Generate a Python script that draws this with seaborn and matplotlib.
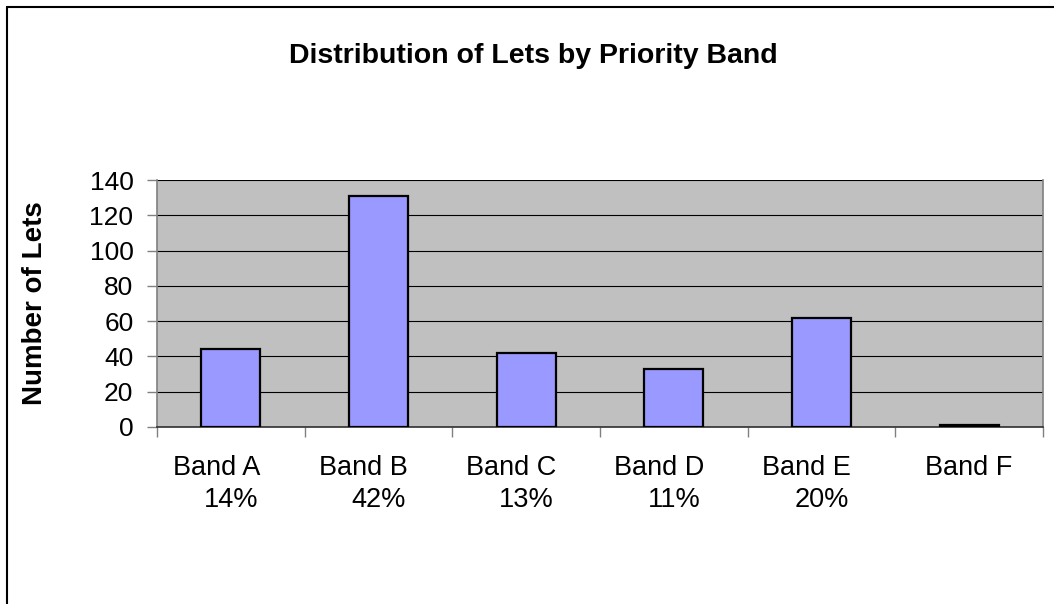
import matplotlib
matplotlib.use("Agg")
import matplotlib.pyplot as plt
import seaborn as sns
import pandas as pd
from matplotlib.lines import Line2D

# ---- data ----
bands = ["Band A", "Band B", "Band C", "Band D", "Band E", "Band F"]
lets = [44, 131, 42, 33, 62, 1]
shares = ["14%", "42%", "13%", "11%", "20%", ""]
y_ticks = [0, 20, 40, 60, 80, 100, 120, 140]
title = "Distribution of Lets by Priority Band"
ylabel = "Number of Lets"

sns.set_theme(style="white")
plt.rcParams["font.family"] = ["Liberation Sans", "DejaVu Sans"]
plt.rcParams["text.color"] = "black"
plt.rcParams["axes.labelcolor"] = "black"

W, H = 1054, 604
fig = plt.figure(figsize=(W / 100, H / 100), dpi=100)
fig.patch.set_facecolor("white")
L, R, T, B = 157, 1043, 180, 427
ax = fig.add_axes([L / W, 1 - B / H, (R - L) / W, (B - T) / H])
ax.set_facecolor("#C0C0C0")

df = pd.DataFrame({"band": bands, "lets": lets})
sns.barplot(data=df, x="band", y="lets", ax=ax, color="#9999FF", saturation=1,
            width=0.4, edgecolor="black", linewidth=1.6, zorder=3)

ax.set_xlim(-0.5, len(bands) - 0.5)
ax.set_ylim(0, 140)
ax.set_yticks(y_ticks)
ax.set_yticklabels([str(v) for v in y_ticks])
ax.yaxis.grid(True, color="black", linewidth=0.8, zorder=1)
ax.set_axisbelow(True)

# category boundaries as major ticks, labels at minor ticks
ax.set_xticks([i - 0.5 for i in range(len(bands) + 1)])
ax.set_xticklabels([])
labels = []
for b, s in zip(bands, shares):
    labels.append(f"{b}    \n{s}" if s else b)
ax.set_xticks(list(range(len(bands))), minor=True)
ax.set_xticklabels(labels, minor=True, fontsize=19.5, linespacing=1.28)
ax.tick_params(axis="x", which="major", length=7, width=1, color="#808080", direction="out", bottom=True)
ax.tick_params(axis="x", which="minor", length=0, pad=20.5, labelcolor="black")
ax.tick_params(axis="y", which="major", length=7, width=1, color="#808080", direction="out",
               left=True, labelsize=19, pad=10, labelcolor="black")
ax.set_xlabel("")
ax.set_ylabel(ylabel, fontsize=20, fontweight="bold", color="black")
ax.yaxis.set_label_coords((48 - L) / (R - L), 0.5)

for side in ["left", "right", "bottom"]:
    ax.spines[side].set_visible(True)
    ax.spines[side].set_color("#808080")
    ax.spines[side].set_linewidth(1.2)
ax.spines["bottom"].set_color("#303030")
ax.spines["top"].set_visible(False)

fig.text(533 / W, 1 - 56 / H, title, ha="center", va="center", fontsize=20.5,
         fontweight="bold", color="black")

# chart-area border (top and left visible)
fig.add_artist(Line2D([7 / W, 7 / W], [0, 1 - 7 / H], transform=fig.transFigure, color="black", linewidth=1.5))
fig.add_artist(Line2D([7 / W, 1], [1 - 7 / H, 1 - 7 / H], transform=fig.transFigure, color="black", linewidth=1.5))

fig.savefig("out.png", dpi=100)
